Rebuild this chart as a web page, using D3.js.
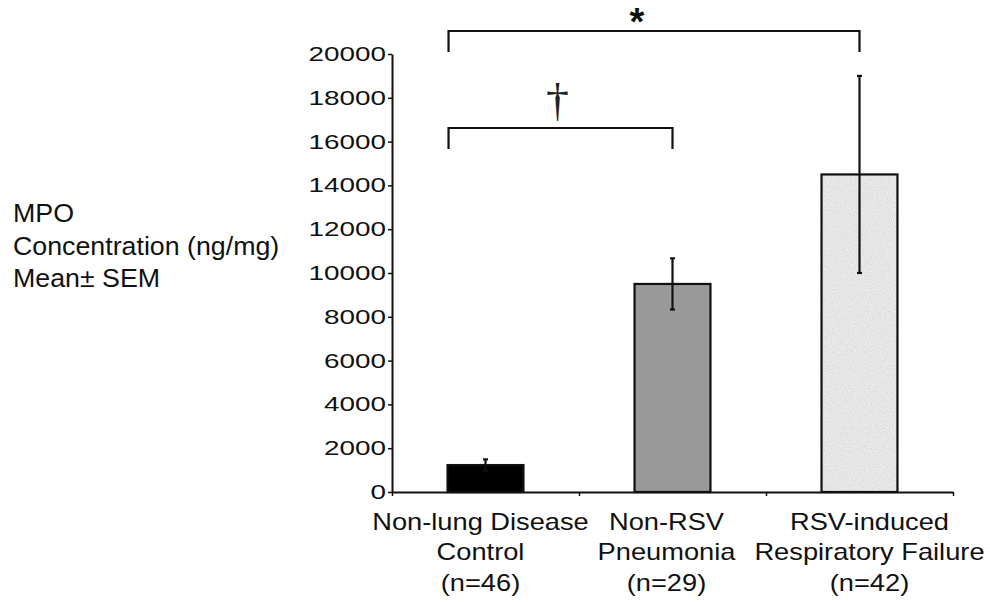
<!DOCTYPE html>
<html>
<head>
<meta charset="utf-8">
<script src="https://cdn.jsdelivr.net/npm/d3@7/dist/d3.min.js"></script>
<style>
  html, body { margin: 0; padding: 0; background: #ffffff; }
  svg { display: block; font-family: "Liberation Sans", Arial, Helvetica, sans-serif; }
</style>
</head>
<body>
<svg id="chart" width="990" height="602"></svg>
<script>
// Groups, their label lines and sample sizes
const categories = ["Non-lung Disease Control", "Non-RSV Pneumonia", "RSV-induced Respiratory Failure"];
const labelLines = [
  ["Non-lung Disease", "Control", "(n=46)"],
  ["Non-RSV", "Pneumonia", "(n=29)"],
  ["RSV-induced", "Respiratory Failure", "(n=42)"]
];
// MPO concentration (ng/mg), mean and SEM per group
const means = [1230, 9500, 14500];
const sems = [260, 1170, 4500];
// Y axis ticks
const yTicks = [0, 2000, 4000, 6000, 8000, 10000, 12000, 14000, 16000, 18000, 20000];
// Axis title lines
const yTitle = ["MPO", "Concentration (ng/mg)", "Mean\u00b1 SEM"];
// Significance brackets: groups joined, bracket level and leg drop (data units), marker
const bracketFrom = [0, 0];
const bracketTo = [2, 1];
const bracketLevel = [21050, 16620];
const bracketDrop = [960, 960];
const bracketMark = ["*", "\u2020"];

const barFills = ["#000000", "#999999", "#e3e3e3"];

const svg = d3.select("#chart");
const plotLeft = 392, plotRight = 953, plotTop = 54, plotBottom = 492;

const y = d3.scaleLinear().domain([0, 20000]).range([plotBottom, plotTop]);
const x = d3.scaleBand().domain(categories).range([plotLeft, plotRight])
  .paddingInner(0.594).paddingOuter(0.297);
const xEdge = d3.scaleLinear().domain([0, categories.length]).range([plotLeft, plotRight]);

// fine speckle used for the light bar
const defs = svg.append("defs");
const f = defs.append("filter").attr("id", "grain")
  .attr("color-interpolation-filters", "sRGB")
  .attr("x", 0).attr("y", 0).attr("width", "100%").attr("height", "100%");
f.append("feTurbulence").attr("type", "fractalNoise").attr("baseFrequency", 0.95)
  .attr("numOctaves", 2).attr("seed", 4).attr("result", "noise");
f.append("feColorMatrix").attr("in", "noise").attr("type", "saturate").attr("values", 0).attr("result", "grey");
const ct = f.append("feComponentTransfer").attr("in", "grey").attr("result", "tone");
["feFuncR", "feFuncG", "feFuncB"].forEach(n =>
  ct.append(n).attr("type", "linear").attr("slope", 0.2).attr("intercept", 0.8));
ct.append("feFuncA").attr("type", "linear").attr("slope", 0).attr("intercept", 1);
f.append("feComposite").attr("in", "tone").attr("in2", "SourceGraphic").attr("operator", "in");

// stretch text horizontally around its anchor point
function stretch(sel, sx) {
  sel.each(function () {
    const t = d3.select(this);
    const tx = +t.attr("x") || 0, ty = +t.attr("y") || 0;
    t.attr("x", 0).attr("y", 0).attr("transform", `translate(${tx},${ty}) scale(${sx},1)`);
  });
}

// bars
const bars = svg.append("g");
categories.forEach((c, i) => {
  const textured = i === 2;
  if (textured) {
    bars.append("rect")
      .attr("x", x(c)).attr("y", y(means[i]))
      .attr("width", x.bandwidth()).attr("height", y(0) - y(means[i]))
      .attr("fill", barFills[i]).attr("filter", "url(#grain)");
  }
  bars.append("rect")
    .attr("x", x(c)).attr("y", y(means[i]))
    .attr("width", x.bandwidth()).attr("height", y(0) - y(means[i]))
    .attr("fill", textured ? "none" : barFills[i])
    .attr("stroke", "#111").attr("stroke-width", 2.2);
});

// error bars
const err = svg.append("g").attr("stroke", "#111");
categories.forEach((c, i) => {
  const cx = x(c) + x.bandwidth() / 2;
  err.append("line").attr("x1", cx).attr("x2", cx)
    .attr("y1", y(means[i] - sems[i])).attr("y2", y(means[i] + sems[i]))
    .attr("stroke-width", 2.2);
  [means[i] - sems[i], means[i] + sems[i]].forEach(v => {
    err.append("line").attr("x1", cx - 2.5).attr("x2", cx + 2.5)
      .attr("y1", y(v)).attr("y2", y(v)).attr("stroke-width", 2.2);
  });
});

// y axis
const yAxis = svg.append("g").attr("transform", `translate(${plotLeft},0)`)
  .call(d3.axisLeft(y).tickValues(yTicks).tickSize(4).tickSizeOuter(0).tickPadding(2)
    .tickFormat(d3.format("d")));
yAxis.select(".domain").attr("stroke", "#111").attr("stroke-width", 2);
yAxis.selectAll(".tick line").attr("stroke", "#111").attr("stroke-width", 1.5);
yAxis.selectAll(".tick text")
  .attr("font-size", 20.5).attr("fill", "#111")
  .attr("font-family", "'Liberation Sans', Arial, sans-serif")
  .call(stretch, 1.36);

// x axis with ticks between groups
const xAxis = svg.append("g").attr("transform", `translate(0,${plotBottom})`)
  .call(d3.axisBottom(xEdge).tickValues(d3.range(0, categories.length + 1))
    .tickSize(4).tickSizeOuter(0).tickFormat(""));
xAxis.select(".domain").attr("stroke", "#111").attr("stroke-width", 2);
xAxis.selectAll(".tick line").attr("stroke", "#111").attr("stroke-width", 1.5);

// group labels (slight per-group nudge of the text blocks)
const labelNudge = [-5, -6, 10];
const lab = svg.append("g").attr("fill", "#111").attr("font-size", 23).attr("text-anchor", "middle");
const lineBase = [529.5, 560, 591];
categories.forEach((c, i) => {
  const cx = x(c) + x.bandwidth() / 2 + labelNudge[i];
  labelLines[i].forEach((s, k) => {
    lab.append("text").attr("x", cx).attr("y", lineBase[k]).text(s).call(stretch, 1.185);
  });
});

// y axis title
const ttl = svg.append("g").attr("fill", "#111").attr("font-size", 26);
yTitle.forEach((s, k) => {
  ttl.append("text").attr("x", 13).attr("y", 222 + k * 32.5).text(s).call(stretch, 1.03);
});

// significance brackets
const br = svg.append("g");
bracketMark.forEach((m, j) => {
  const x1 = x(categories[bracketFrom[j]]) + 1;
  const x2 = x(categories[bracketTo[j]]) + x.bandwidth() / 2;
  const yl = y(bracketLevel[j]);
  const yb = y(bracketLevel[j] - bracketDrop[j]);
  br.append("path")
    .attr("d", `M${x1},${yb}V${yl}H${x2}V${yb}`)
    .attr("fill", "none").attr("stroke", "#111").attr("stroke-width", 2.2);
  const mid = (x1 + x2) / 2;
  if (m === "*") {
    br.append("text").attr("x", mid - 17).attr("y", yl + 4)
      .attr("text-anchor", "middle").attr("font-size", 38).attr("font-weight", "bold")
      .attr("fill", "#111").text(m);
  } else {
    br.append("text").attr("x", mid - 3).attr("y", yl - 12)
      .attr("text-anchor", "middle").attr("font-size", 46)
      .attr("font-family", "'Liberation Serif', 'Times New Roman', serif")
      .attr("fill", "#222").text(m);
  }
});
</script>
</body>
</html>
